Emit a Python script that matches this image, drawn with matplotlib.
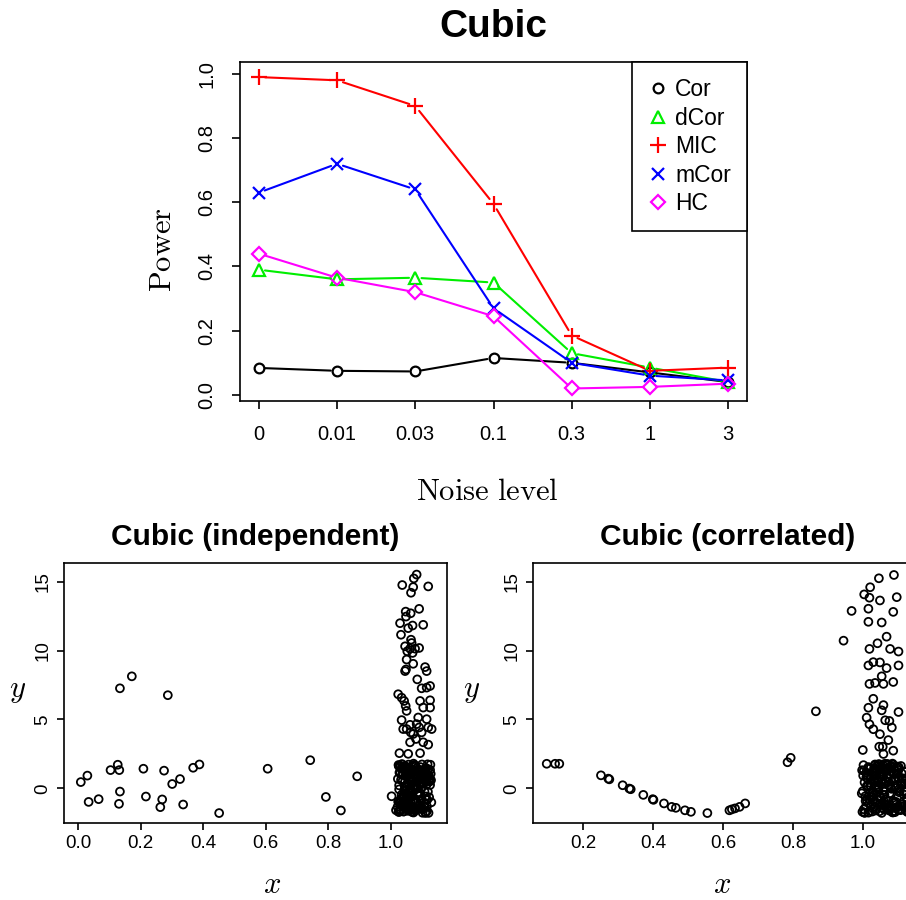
import matplotlib
matplotlib.use("Agg")
import matplotlib.pyplot as plt
import numpy as np

plt.rcParams['font.family'] = ['Liberation Sans', 'DejaVu Sans']
plt.rcParams['mathtext.fontset'] = 'cm'

# ---- power curves (top panel) ----
noise_labels = ["0", "0.01", "0.03", "0.1", "0.3", "1", "3"]
power_cor = [0.084, 0.075, 0.073, 0.115, 0.100, 0.070, 0.040]
power_dcor = [0.390, 0.360, 0.365, 0.350, 0.130, 0.085, 0.040]
power_mic = [0.990, 0.980, 0.900, 0.595, 0.185, 0.075, 0.085]
power_mcor = [0.630, 0.720, 0.640, 0.270, 0.100, 0.060, 0.045]
power_hc = [0.440, 0.365, 0.320, 0.245, 0.020, 0.025, 0.035]

# ---- Cubic (independent) scatter ----
ind_sparse_x = [0.172, 0.134, 0.287, 0.009, 0.030, 0.034, 0.066, 0.104, 0.127, 0.132,
                0.134, 0.131, 0.209, 0.217, 0.275, 0.269, 0.263, 0.301, 0.326, 0.336,
                0.368, 0.388, 0.451, 0.606, 0.742, 0.792, 0.840, 0.892, 1.002, 1.016]
ind_sparse_y = [8.13, 7.26, 6.76, 0.45, 0.92, -0.99, -0.79, 1.32, 1.71, 1.32,
                -0.24, -1.13, 1.42, -0.60, 1.28, -0.81, -1.37, 0.31, 0.67, -1.18,
                1.49, 1.73, -1.80, 1.42, 2.04, -0.63, -1.61, 0.87, -0.58, -1.59]
ind_upper_x = [1.082, 1.073, 1.036, 1.071, 1.119, 1.064, 1.047, 1.063, 1.090, 1.048,
               1.029, 1.069, 1.055, 1.103, 1.032, 1.064, 1.066, 1.045, 1.061, 1.077,
               1.090, 1.052, 1.069, 1.050, 1.071, 1.109, 1.048, 1.114, 1.045, 1.084,
               1.098, 1.114, 1.125, 1.023, 1.034, 1.042, 1.093, 1.125, 1.047, 1.103,
               1.125, 1.050, 1.034, 1.087, 1.114, 1.061, 1.039, 1.050, 1.082, 1.090,
               1.119, 1.130, 1.063, 1.098, 1.071, 1.080, 1.061, 1.103, 1.119, 1.055,
               1.027, 1.093]
ind_upper_y = [15.52, 15.24, 14.76, 14.61, 14.66, 14.20, 12.83, 12.71, 13.03, 12.47,
               11.99, 11.82, 11.63, 11.87, 11.15, 10.79, 10.55, 10.31, 10.14, 10.14,
               10.19, 9.95, 9.83, 9.35, 9.04, 8.80, 8.63, 8.51, 8.51, 7.91,
               7.26, 7.31, 7.43, 6.83, 6.58, 6.34, 6.34, 6.39, 5.98, 5.86,
               5.86, 5.62, 4.95, 5.14, 5.02, 4.61, 4.30, 4.30, 4.66, 4.42,
               4.42, 4.30, 4.06, 4.06, 3.94, 3.58, 3.34, 3.34, 3.17, 2.50,
               2.55, 2.55]
ind_dense_x = [1.031, 1.087, 1.064, 1.112, 1.045, 1.026, 1.098, 1.073, 1.054, 1.121,
               1.038, 1.081, 1.069, 1.103, 1.029, 1.058, 1.115, 1.047, 1.092, 1.035,
               1.076, 1.062, 1.125, 1.041, 1.084, 1.051, 1.108, 1.023, 1.067, 1.096,
               1.044, 1.118, 1.059, 1.079, 1.033, 1.101, 1.071, 1.049, 1.127, 1.037,
               1.089, 1.056, 1.113, 1.027, 1.065, 1.094, 1.042, 1.078, 1.106, 1.053,
               1.024, 1.083, 1.061, 1.119, 1.046, 1.097, 1.072, 1.034, 1.109, 1.057,
               1.086, 1.028, 1.068, 1.123, 1.043, 1.091, 1.055, 1.116, 1.039, 1.075,
               1.102, 1.048, 1.063, 1.129, 1.032, 1.085, 1.052, 1.111, 1.026, 1.074,
               1.099, 1.041, 1.066, 1.117, 1.036, 1.093, 1.058, 1.104, 1.030, 1.081,
               1.047, 1.122, 1.062, 1.088, 1.025, 1.107, 1.054, 1.077, 1.040, 1.114,
               1.069, 1.095, 1.033, 1.060, 1.126, 1.045, 1.082, 1.050, 1.110, 1.029,
               1.071, 1.100, 1.037, 1.064, 1.120, 1.044, 1.090, 1.057, 1.105, 1.022,
               1.035, 1.079, 1.052, 1.116, 1.028, 1.091, 1.063, 1.107, 1.043, 1.072,
               1.124, 1.058, 1.031, 1.085, 1.049, 1.099, 1.067, 1.021, 1.112, 1.076,
               1.039, 1.094, 1.055, 1.128, 1.046, 1.081, 1.026, 1.103, 1.061, 1.088,
               1.034, 1.118, 1.070, 1.042, 1.097, 1.053, 1.125, 1.029, 1.083, 1.065,
               1.110, 1.037, 1.074, 1.050, 1.101, 1.024, 1.089, 1.059, 1.121, 1.044,
               1.068, 1.092, 1.032, 1.078, 1.115, 1.056, 1.027, 1.086, 1.047, 1.106]
ind_dense_y = [-1.62, 0.84, -0.35, 1.47, -1.12, 0.21, -0.78, 1.69, -1.45, 0.53,
               1.12, -0.91, -1.74, 0.37, 1.58, -0.12, -1.31, 0.95, -0.56, 1.76,
               -1.05, 0.08, 1.33, -1.68, 0.66, -0.43, 1.21, -0.97, -1.52, 0.44,
               1.63, -0.25, -1.19, 0.79, 1.41, -1.78, 0.15, -0.68, 1.05, -1.36,
               0.58, 1.72, -0.84, -1.57, 0.29, 1.26, -0.18, -1.09, 0.91, 1.52,
               -1.71, 0.02, -0.62, 1.38, -1.27, 0.71, 1.79, -0.47, -1.41, 0.33,
               1.16, -0.95, -1.66, 0.48, 1.55, -0.31, -1.22, 0.87, -0.72, 1.67,
               -1.49, 0.19, 1.08, -1.02, 0.62, -0.39, 1.44, -1.75, -0.08, 0.99,
               1.29, -1.33, -0.54, 1.74, -1.14, 0.39, -0.81, 1.19, -1.59, 0.06,
               1.49, -0.65, -1.43, 0.75, 1.61, -0.22, -1.04, 0.93, -1.69, 0.27,
               1.35, -0.88, -1.25, 0.56, 1.71, -0.14, -1.55, 0.82, -0.59, 1.11,
               -1.39, 0.42, 1.57, -0.99, -1.79, 0.13, 1.25, -0.76, -1.29, 0.68,
               0.97, -1.58, 0.31, -0.83, 1.65, -1.21, 0.04, 1.39, -0.49, -1.76,
               0.66, 1.18, -1.02, 0.45, -1.47, 1.73, -0.27, -1.35, 0.88, 0.17,
               -0.71, 1.54, -1.64, 0.59, 1.27, -0.96, -1.72, 0.35, 1.02, -0.41,
               -1.18, 0.79, 1.61, -0.63, -1.51, 1.09, 0.24, -1.06, 1.47, -0.18,
               -1.79, 0.53, 1.34, -0.88, 0.11, 1.69, -1.29, -0.52, 0.93, 1.43,
               -1.41, 0.27, -0.74, 1.57, -1.66, 0.69, 1.14, -0.35, -1.24, 0.82]

# ---- Cubic (correlated) scatter ----
cor_curve_x = [0.096, 0.120, 0.132, 0.251, 0.272, 0.275, 0.313, 0.332, 0.336, 0.372,
               0.399, 0.401, 0.431, 0.453, 0.465, 0.491, 0.508, 0.555, 0.618, 0.625,
               0.634, 0.647, 0.663, 0.784, 0.793, 0.865, 0.944]
cor_curve_y = [1.78, 1.78, 1.78, 0.94, 0.70, 0.65, 0.22, -0.02, -0.07, -0.48,
               -0.79, -0.84, -1.10, -1.35, -1.42, -1.60, -1.71, -1.80, -1.60, -1.53,
               -1.46, -1.35, -1.10, 1.89, 2.21, 5.59, 10.72]
cor_upper_x = [1.088, 1.045, 1.020, 1.003, 1.018, 1.048, 1.096, 0.967, 1.015, 1.086,
               1.015, 1.053, 1.067, 1.041, 1.018, 1.077, 1.101, 1.015, 1.029, 1.048,
               1.067, 1.101, 1.053, 1.034, 1.018, 1.058, 1.086, 1.029, 1.015, 1.058,
               1.053, 1.101, 1.010, 1.063, 1.075, 1.018, 1.029, 1.082, 1.048, 1.072,
               0.999, 1.046, 1.056, 1.086, 1.058]
cor_upper_y = [15.49, 15.25, 14.60, 14.08, 13.84, 13.64, 13.88, 12.88, 13.04, 12.81,
               12.09, 12.04, 11.01, 10.53, 10.12, 10.12, 9.93, 8.92, 9.16, 9.14,
               8.73, 8.92, 8.13, 7.65, 7.58, 7.58, 7.72, 6.50, 5.85, 6.04,
               5.66, 5.54, 5.13, 4.94, 4.89, 4.65, 4.29, 4.41, 3.93, 3.50,
               2.78, 3.02, 3.02, 2.73, 2.49]
cor_dense_x = [1.012, 1.074, 1.041, 1.118, 0.998, 1.056, 1.093, 1.027, 1.108, 1.063,
               1.035, 1.084, 1.006, 1.127, 1.049, 1.071, 1.019, 1.102, 1.058, 1.031,
               1.089, 1.044, 1.115, 1.003, 1.067, 1.096, 1.024, 1.079, 1.052, 1.122,
               1.015, 1.061, 1.105, 1.038, 1.086, 0.997, 1.047, 1.112, 1.069, 1.029,
               1.098, 1.055, 1.009, 1.081, 1.125, 1.042, 1.064, 1.021, 1.091, 1.036,
               1.117, 1.050, 1.001, 1.076, 1.107, 1.033, 1.059, 1.094, 1.014, 1.128,
               1.045, 1.083, 1.026, 1.068, 1.110, 1.004, 1.053, 1.099, 1.039, 1.072,
               1.018, 1.120, 1.061, 1.088, 1.030, 1.046, 1.103, 1.008, 1.077, 1.057,
               1.124, 1.037, 1.092, 1.016, 1.065, 1.113, 1.043, 1.002, 1.085, 1.051,
               1.097, 1.023, 1.070, 1.119, 1.034, 1.060, 1.010, 1.106, 1.048, 1.080,
               1.026, 1.114, 1.066, 0.999, 1.090, 1.040, 1.073, 1.121, 1.054, 1.017,
               1.101, 1.032, 1.078, 1.062, 1.011, 1.126, 1.044, 1.087, 1.028, 1.095,
               1.007, 1.069, 1.036, 1.111, 1.052, 0.996, 1.084, 1.024, 1.098, 1.060,
               1.013, 1.125, 1.045, 1.077, 1.031, 1.104, 1.056, 1.002, 1.091, 1.040,
               1.118, 1.066, 1.020, 1.081, 1.049, 1.129, 1.011, 1.073, 1.035, 1.095,
               1.058, 1.005, 1.087, 1.027, 1.115, 1.043, 1.071, 1.017, 1.100, 1.063,
               1.038, 1.123, 1.054, 1.000, 1.079, 1.029, 1.108, 1.047, 1.089, 1.015,
               1.066, 1.034, 1.116, 1.056, 1.022, 1.093, 1.041, 1.075, 1.009, 1.102]
cor_dense_y = [0.73, -1.48, 1.36, -0.27, -1.71, 0.94, 0.12, -0.86, 1.62, -1.18,
               0.47, 1.79, -0.58, -1.39, 1.03, 0.26, -1.63, 0.69, -0.11, 1.45,
               -1.01, 1.71, -0.44, -1.77, 0.85, 0.03, -1.26, 1.22, -0.73, 0.58,
               1.54, -1.56, -0.19, 0.97, -0.92, 1.31, -1.67, 0.36, 1.77, -0.51,
               -1.34, 0.64, 1.14, -0.04, -1.45, 1.59, -0.81, 0.19, -1.73, 1.27,
               0.51, -1.11, 1.68, -0.36, -1.59, 0.89, 0.31, -0.99, 1.41, -1.22,
               0.09, 1.74, -0.67, -1.52, 1.09, 0.43, -1.79, 0.77, -0.15, 1.51,
               -1.06, 1.19, -0.48, -1.65, 0.62, 1.37, -0.29, -1.31, 0.99, 1.66,
               -0.79, 0.23, -1.42, 1.47, 0.54, -1.14, -0.06, 1.29, -1.76, 0.81,
               1.06, -0.62, -1.47, 0.38, 1.73, -0.97, 0.16, -1.28, 1.56, -0.41,
               -1.69, 0.72, 1.24, -0.21, -1.08, 1.61, 0.46, -1.61, 0.91, -0.55,
               1.33, -1.36, 0.05, 1.78, -0.88, -1.72, 0.59, 1.16, -0.33, -1.19,
               -0.92, 1.44, -1.61, 0.28, 1.07, -0.37, -1.74, 0.83, 1.58, -1.15,
               0.14, -0.69, 1.76, -1.38, 0.51, -0.02, 1.32, -1.53, 0.74, -0.84,
               1.21, -1.25, 0.39, 1.63, -0.57, -1.69, 0.96, 0.21, -1.03, 1.49,
               -0.46, -1.78, 0.67, 1.15, -1.32, 0.07, 1.71, -0.75, -1.57, 0.57,
               1.38, -0.24, -1.12, 0.92, 1.56, -1.49, 0.33, -0.61, 1.02, -1.77,
               0.48, 1.66, -0.95, -1.43, 0.16, 1.25, -0.31, -1.62, 0.79, 1.52]

W, H = 906, 900
fig = plt.figure(figsize=(W / 100, H / 100), dpi=100)


def px_axes(left, top, right, bottom):
    return fig.add_axes([left / W, 1 - bottom / H, (right - left) / W, (bottom - top) / H])


def style_box(ax, lw=1.2):
    for s in ax.spines.values():
        s.set_linewidth(lw)
        s.set_color('black')


# ---------- top panel ----------
ax = px_axes(240, 62, 747, 401)
style_box(ax)
xs = np.arange(len(noise_labels))
series = [
    ("Cor", power_cor, 'black', 'o', 7),
    ("dCor", power_dcor, '#00ee00', '^', 9),
    ("MIC", power_mic, 'red', '+', 12),
    ("mCor", power_mcor, 'blue', 'x', 8),
    ("HC", power_hc, 'magenta', 'D', 7.5),
]
for name, vals, col, mk, ms in series:
    for i in range(len(xs) - 1):
        ax.annotate('', xy=(xs[i + 1], vals[i + 1]), xytext=(xs[i], vals[i]),
                    arrowprops=dict(arrowstyle='-', color=col, lw=1.5,
                                    shrinkA=4.5, shrinkB=4.5))
    ax.plot(xs, vals, ls='none', marker=mk, ms=ms, mfc='none', mec=col,
            mew=1.6, label=name)

ax.set_xlim(-0.24, 6.24)
ax.set_ylim(-0.019, 1.037)
ax.set_xticks(xs)
ax.set_xticklabels(noise_labels)
ax.set_yticks([0, 0.2, 0.4, 0.6, 0.8, 1.0])
ax.set_yticklabels(["0.0", "0.2", "0.4", "0.6", "0.8", "1.0"], rotation=90, va='center')
ax.tick_params(axis='both', labelsize=14.5, length=6, width=1.2, pad=11)
ax.set_title("Cubic", fontsize=28, fontweight='bold', pad=18)
fig.text(163 / W, 1 - 250 / H, r'$\mathrm{Power}$', rotation=90, fontsize=22,
         ha='center', va='center')
fig.text(487 / W, 1 - 492 / H, r'$\mathrm{Noise\ level}$', fontsize=22,
         ha='center', va='center')
leg = ax.legend(loc='upper right', borderaxespad=0, fancybox=False,
                edgecolor='black', framealpha=1, fontsize=16.5, handlelength=0.8,
                handletextpad=0.36, labelspacing=0.24, borderpad=0.7)
leg.get_frame().set_linewidth(1.2)


# ---------- bottom panels ----------
def scatter_panel(ax, xlist, ylist, title, xlim, xticks, xticklabels):
    style_box(ax)
    for xv, yv in zip(xlist, ylist):
        ax.scatter(xv, yv, s=32, facecolors='none', edgecolors='black', linewidths=1.3)
    ax.set_xlim(*xlim)
    ax.set_ylim(-2.5, 16.36)
    ax.set_xticks(xticks)
    ax.set_xticklabels(xticklabels)
    ax.set_yticks([0, 5, 10, 15])
    ax.set_yticklabels(["0", "5", "10", "15"], rotation=90, va='center')
    ax.tick_params(axis='both', labelsize=13.5, length=5, width=1.2, pad=4)
    ax.set_title(title, fontsize=21.5, fontweight='bold', pad=13)


ax1 = px_axes(64, 563, 447, 822.7)
scatter_panel(ax1, [ind_sparse_x, ind_upper_x, ind_dense_x],
              [ind_sparse_y, ind_upper_y, ind_dense_y],
              "Cubic (independent)", (-0.0447, 1.179),
              [0.0, 0.2, 0.4, 0.6, 0.8, 1.0], ["0.0", "0.2", "0.4", "0.6", "0.8", "1.0"])
fig.text(272 / W, 1 - 885 / H, r'$x$', fontsize=22, ha='center', va='center')
fig.text(18 / W, 1 - 690 / H, r'$y$', fontsize=22, ha='center', va='center')

ax2 = px_axes(532.7, 563, 923, 822.7)
scatter_panel(ax2, [cor_curve_x, cor_upper_x, cor_dense_x],
              [cor_curve_y, cor_upper_y, cor_dense_y],
              "Cubic (correlated)", (0.056, 1.171),
              [0.2, 0.4, 0.6, 0.8, 1.0], ["0.2", "0.4", "0.6", "0.8", "1.0"])
fig.text(722 / W, 1 - 885 / H, r'$x$', fontsize=22, ha='center', va='center')
fig.text(472 / W, 1 - 690 / H, r'$y$', fontsize=22, ha='center', va='center')

fig.savefig("out.png", dpi=100)
